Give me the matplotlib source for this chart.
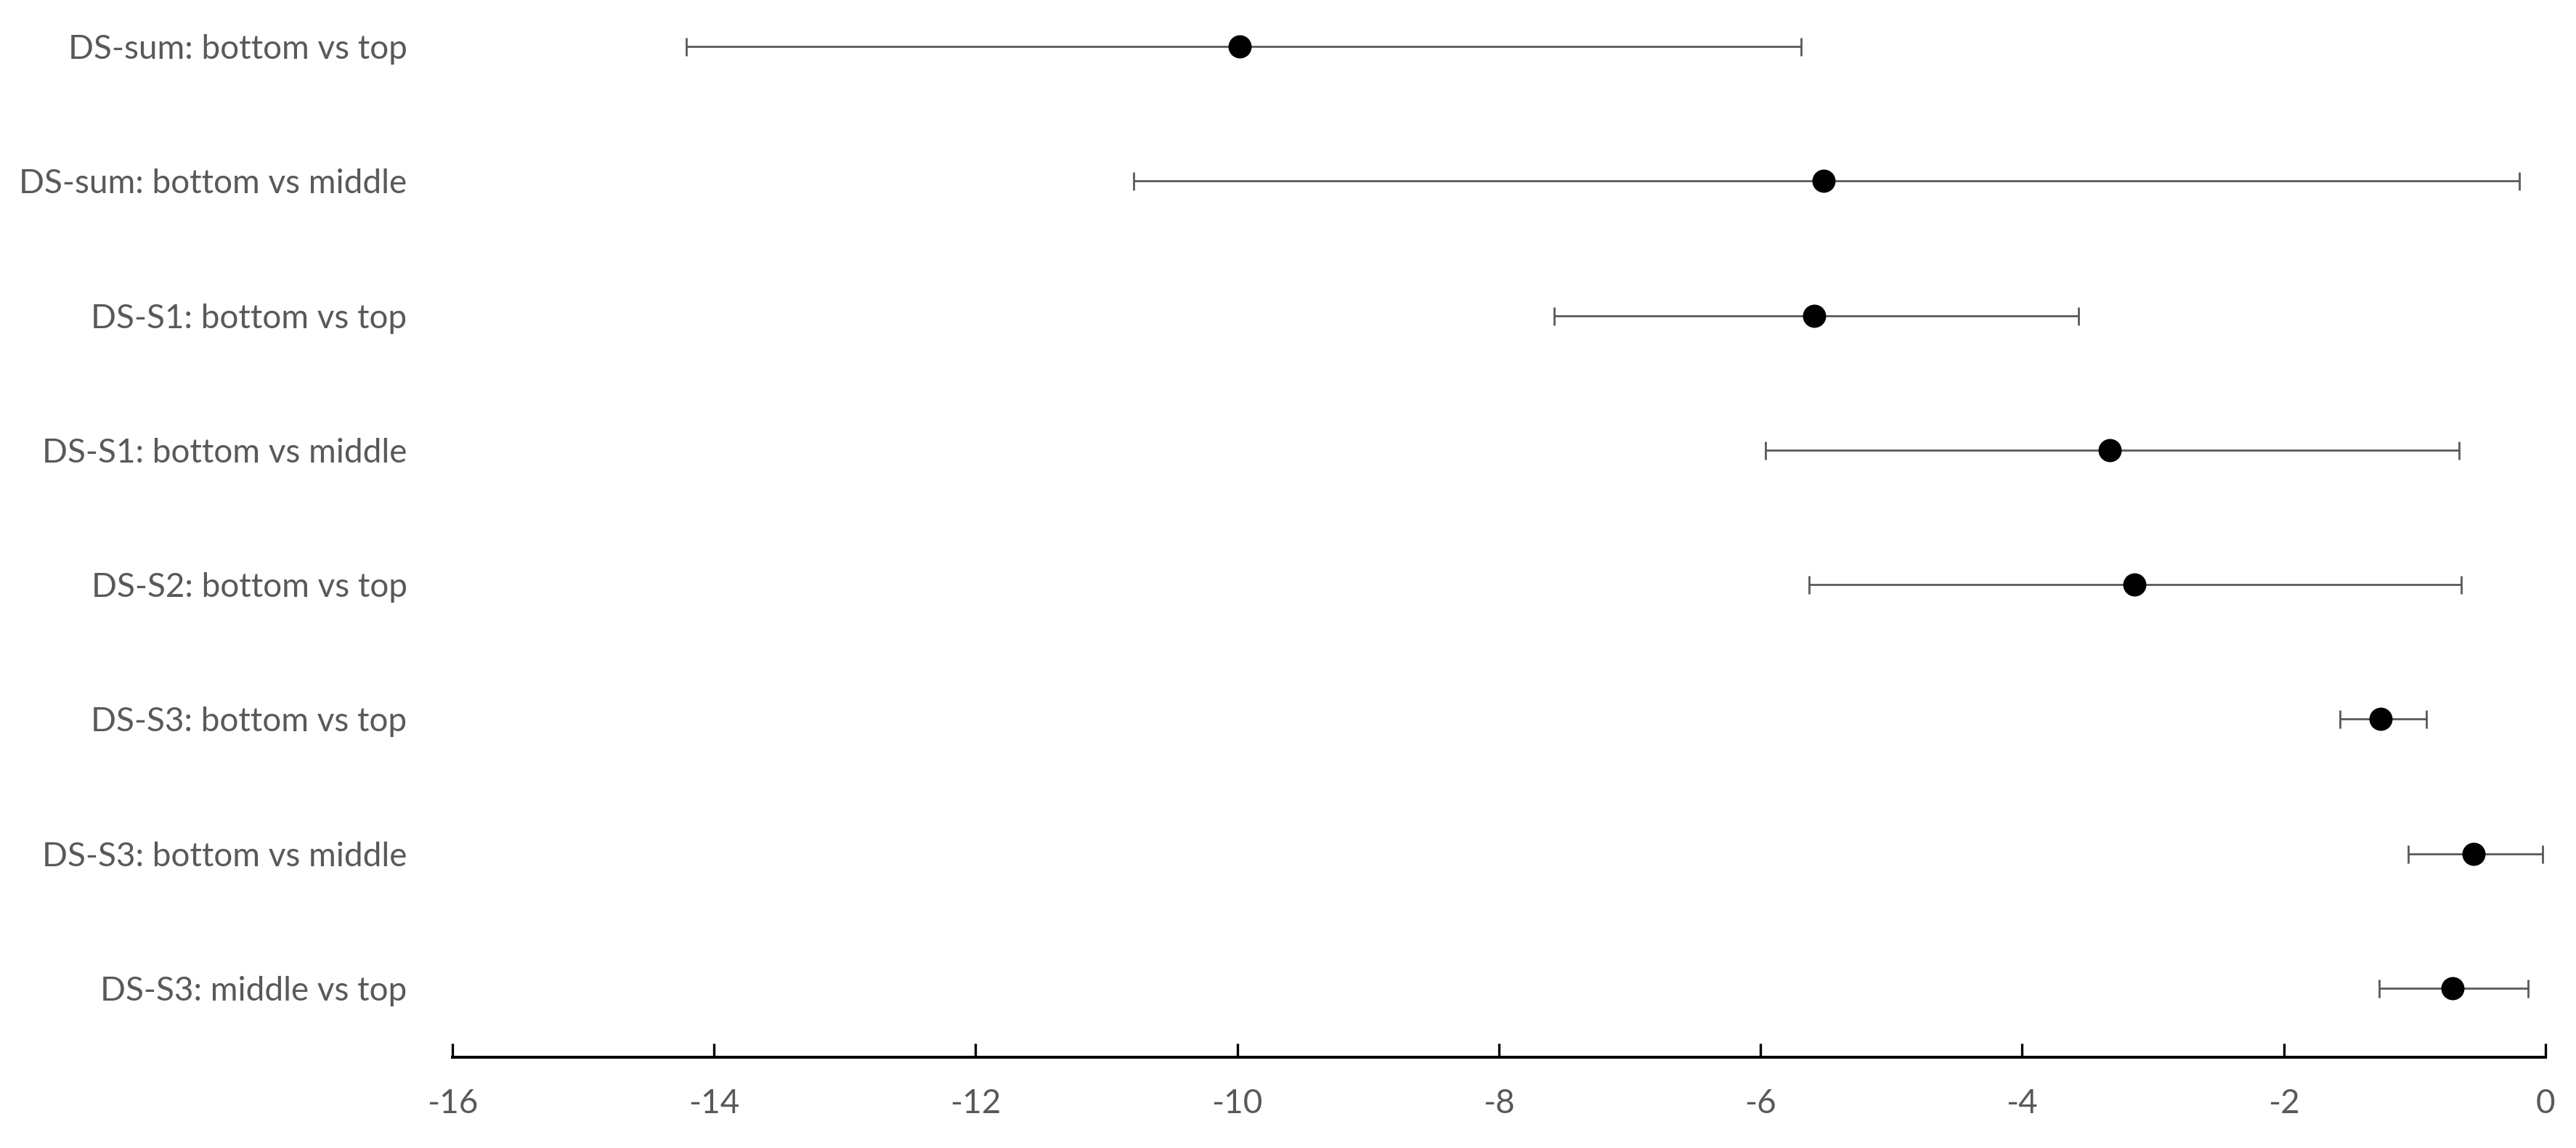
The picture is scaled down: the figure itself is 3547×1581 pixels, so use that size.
import matplotlib
matplotlib.use("Agg")
import matplotlib.pyplot as plt
import numpy as np

labels = [
    "DS-sum: bottom vs top",
    "DS-sum: bottom vs middle",
    "DS-S1: bottom vs top",
    "DS-S1: bottom vs middle",
    "DS-S2: bottom vs top",
    "DS-S3: bottom vs top",
    "DS-S3: bottom vs middle",
    "DS-S3: middle vs top",
]
estimate = [-9.98, -5.52, -5.59, -3.33, -3.14, -1.26, -0.55, -0.71]
ci_low = [-14.21, -10.79, -7.58, -5.96, -5.63, -1.57, -1.05, -1.27]
ci_high = [-5.69, -0.20, -3.57, -0.66, -0.64, -0.91, -0.02, -0.13]
xticks = [-16, -14, -12, -10, -8, -6, -4, -2, 0]

plt.rcParams["font.family"] = ["Lato", "DejaVu Sans"]
grey = "#595959"

est = np.array(estimate)
lo = est - np.array(ci_low)
hi = np.array(ci_high) - est
ypos = np.arange(len(labels), 0, -1)

fig = plt.figure(figsize=(35.48, 15.81), dpi=100)
ax = fig.add_axes([0.1756, 0.0790, 0.8122, 0.9210])

ax.errorbar(est, ypos, xerr=[lo, hi], fmt="o", color="black", ms=22,
            ecolor=grey, elinewidth=2.0, capsize=9, capthick=2.0)

ax.set_xlim(-16, 0)
ax.set_ylim(0.486, 8.346)
ax.set_xticks(xticks)
ax.set_xticklabels([str(t) for t in xticks])
ax.set_yticks(ypos)
ax.set_yticklabels(labels)

for s in ["top", "right", "left"]:
    ax.spines[s].set_visible(False)
ax.spines["bottom"].set_linewidth(2.9)
ax.tick_params(axis="x", direction="in", length=14, width=2.4, colors="black",
               labelcolor=grey, labelsize=33, pad=31)
ax.tick_params(axis="y", length=0, labelcolor=grey, labelsize=33, pad=45)

fig.savefig("out.png", dpi=100)
